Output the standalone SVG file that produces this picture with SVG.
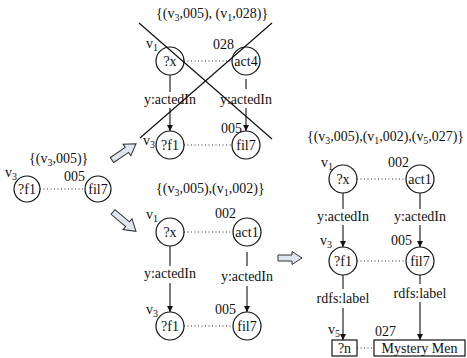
<svg xmlns="http://www.w3.org/2000/svg" width="467" height="358" viewBox="0 0 467 358">
<style>
text{font-family:"Liberation Serif","Times New Roman",serif;font-size:14px;fill:#111}
.c{text-anchor:middle}
.s{font-size:10px}
.node{fill:#fff;stroke:#111;stroke-width:1.2}
.edge{stroke:#111;stroke-width:1.1;fill:none}
.dot{stroke:#333;stroke-width:1;stroke-dasharray:1 2.5;fill:none}
.cross{stroke:#111;stroke-width:1.2}
.big{fill:#dfe6f0;stroke:#333;stroke-width:1}
</style>
<defs>
<marker id="ah" viewBox="0 0 8 8" refX="8" refY="4" markerWidth="6" markerHeight="7" orient="auto" markerUnits="userSpaceOnUse">
<path d="M0,0 L8,4 L0,8 z" fill="#111"/>
</marker>
</defs>
<rect width="467" height="358" fill="#fff"/>

<!-- labels (result sets) -->
<text x="156" y="18">{(v<tspan class="s" dy="3">3</tspan><tspan dy="-3">,005), (v</tspan><tspan class="s" dy="3">1</tspan><tspan dy="-3">,028)}</tspan></text>
<text x="29" y="163">{(v<tspan class="s" dy="3">3</tspan><tspan dy="-3">,005)}</tspan></text>
<text x="156" y="193">{(v<tspan class="s" dy="3">3</tspan><tspan dy="-3">,005),(v</tspan><tspan class="s" dy="3">1</tspan><tspan dy="-3">,002)}</tspan></text>
<text x="307" y="141" textLength="157" lengthAdjust="spacingAndGlyphs">{(v<tspan class="s" dy="3">3</tspan><tspan dy="-3">,005),(v</tspan><tspan class="s" dy="3">1</tspan><tspan dy="-3">,002),(v</tspan><tspan class="s" dy="3">5</tspan><tspan dy="-3">,027)}</tspan></text>

<!-- connectors -->
<g id="connectors">
<!-- left group -->
<line class="dot" x1="40" y1="189" x2="85" y2="189"/>
<!-- top group -->
<line class="dot" x1="184" y1="61" x2="232" y2="61"/>
<line class="edge" x1="170" y1="75" x2="170" y2="92"/>
<line class="edge" x1="170" y1="108" x2="170" y2="131" marker-end="url(#ah)"/>
<line class="edge" x1="246" y1="79" x2="246" y2="89"/>
<line class="edge" x1="246" y1="108" x2="246" y2="131" marker-end="url(#ah)"/>
<line class="dot" x1="184" y1="145" x2="232" y2="145"/>
<!-- middle group -->
<line class="dot" x1="184" y1="232" x2="233" y2="232"/>
<line class="edge" x1="170" y1="246" x2="170" y2="266"/>
<line class="edge" x1="170" y1="283" x2="170" y2="312" marker-end="url(#ah)"/>
<line class="edge" x1="247" y1="252" x2="247" y2="266"/>
<line class="edge" x1="247" y1="286" x2="247" y2="312" marker-end="url(#ah)"/>
<line class="dot" x1="184" y1="326" x2="233" y2="326"/>
<!-- right group -->
<line class="dot" x1="357" y1="179" x2="406" y2="179"/>
<line class="edge" x1="343" y1="193" x2="343" y2="209"/>
<line class="edge" x1="343" y1="225" x2="343" y2="247" marker-end="url(#ah)"/>
<line class="edge" x1="420" y1="193" x2="420" y2="209"/>
<line class="edge" x1="420" y1="225" x2="420" y2="247" marker-end="url(#ah)"/>
<line class="dot" x1="357" y1="261" x2="406" y2="261"/>
<line class="edge" x1="343" y1="275" x2="343" y2="289"/>
<line class="edge" x1="343" y1="308" x2="343" y2="340" marker-end="url(#ah)"/>
<line class="edge" x1="420" y1="275" x2="420" y2="284"/>
<line class="edge" x1="420" y1="302" x2="420" y2="340" marker-end="url(#ah)"/>
<line class="dot" x1="357" y1="348" x2="374" y2="348"/>
<!-- hollow transition arrows -->
<polygon class="big" transform="translate(112,160) rotate(-34)" points="0,-3 18,-3 18,-7 29,0 18,7 18,3 0,3"/>
<polygon class="big" transform="translate(113,212) rotate(40)" points="0,-3 19,-3 19,-7 30,0 19,7 19,3 0,3"/>
<polygon class="big" transform="translate(278,258)" points="0,-3 14,-3 14,-6.5 24,0 14,6.5 14,3 0,3"/>
</g>

<!-- edge labels -->
<text class="c" x="170" y="104">y:actedIn</text>
<text class="c" x="246" y="104">y:actedIn</text>
<text class="c" x="170" y="278">y:actedIn</text>
<text class="c" x="247" y="281">y:actedIn</text>
<text class="c" x="343" y="221">y:actedIn</text>
<text class="c" x="420" y="221">y:actedIn</text>
<text class="c" x="343" y="303">rdfs:label</text>
<text class="c" x="420" y="298">rdfs:label</text>

<!-- left group nodes -->
<g id="L-f1"><circle class="node" cx="27" cy="189" r="13"/><text class="c" x="27" y="194">?f1</text><text x="5" y="177">v<tspan class="s" dy="3">3</tspan></text></g>
<g id="L-fil7"><circle class="node" cx="98" cy="189" r="13"/><text class="c" x="98" y="194">fil7</text><text x="64" y="181">005</text></g>

<!-- top group nodes -->
<g id="T-x"><circle class="node" cx="170" cy="61" r="14"/><text class="c" x="170" y="66">?x</text><text x="146" y="48">v<tspan class="s" dy="3">1</tspan></text></g>
<g id="T-act4"><circle class="node" cx="246" cy="61" r="14"/><text class="c" x="246" y="66">act4</text><text x="213" y="49">028</text></g>
<g id="T-f1"><circle class="node" cx="170" cy="145" r="14"/><text class="c" x="170" y="150">?f1</text><text x="143" y="145">v<tspan class="s" dy="3">3</tspan></text></g>
<g id="T-fil7"><circle class="node" cx="246" cy="145" r="14"/><text class="c" x="246" y="150">fil7</text><text x="221" y="133">005</text></g>

<!-- cross-out -->
<g id="cross">
<line class="cross" x1="139" y1="23" x2="272" y2="139"/>
<line class="cross" x1="272" y1="23" x2="140" y2="138"/>
</g>

<!-- middle group nodes -->
<g id="M-x"><circle class="node" cx="170" cy="232" r="14"/><text class="c" x="170" y="237">?x</text><text x="146" y="219">v<tspan class="s" dy="3">1</tspan></text></g>
<g id="M-act1"><circle class="node" cx="247" cy="232" r="14"/><text class="c" x="247" y="237">act1</text><text x="215" y="218">002</text></g>
<g id="M-f1"><circle class="node" cx="170" cy="326" r="14"/><text class="c" x="170" y="331">?f1</text><text x="146" y="314">v<tspan class="s" dy="3">3</tspan></text></g>
<g id="M-fil7"><circle class="node" cx="247" cy="326" r="14"/><text class="c" x="247" y="331">fil7</text><text x="215" y="314">005</text></g>

<!-- right group nodes -->
<g id="R-x"><circle class="node" cx="343" cy="179" r="14"/><text class="c" x="343" y="184">?x</text><text x="321" y="167">v<tspan class="s" dy="3">1</tspan></text></g>
<g id="R-act1"><circle class="node" cx="420" cy="179" r="14"/><text class="c" x="420" y="184">act1</text><text x="388" y="167">002</text></g>
<g id="R-f1"><circle class="node" cx="343" cy="261" r="14"/><text class="c" x="343" y="266">?f1</text><text x="320" y="245">v<tspan class="s" dy="3">3</tspan></text></g>
<g id="R-fil7"><circle class="node" cx="420" cy="261" r="14"/><text class="c" x="420" y="266">fil7</text><text x="391" y="245">005</text></g>
<g id="R-n"><rect class="node" x="332" y="340" width="25" height="16"/><text class="c" x="344.5" y="353">?n</text><text x="328" y="334">v<tspan class="s" dy="3">5</tspan></text></g>
<g id="R-mm"><rect class="node" x="374" y="340" width="91" height="16"/><text class="c" x="419.5" y="353">Mystery Men</text><text x="375" y="336">027</text></g>
</svg>
